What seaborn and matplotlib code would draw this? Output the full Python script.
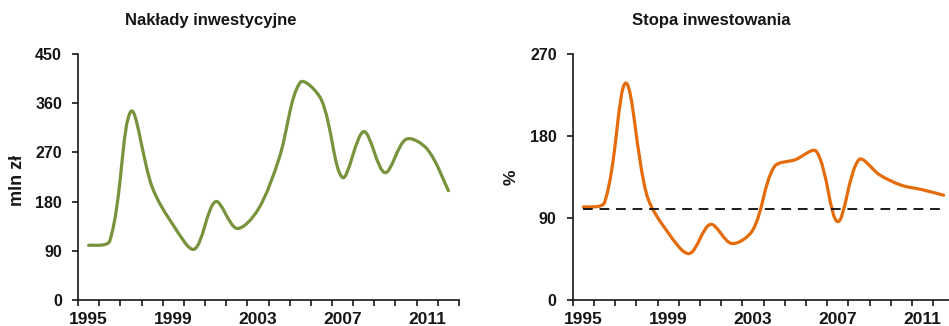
# Investment outlays and investment rate, 1995-2012
import numpy as np
import matplotlib
matplotlib.use("Agg")
import matplotlib.pyplot as plt
from matplotlib.path import Path
from matplotlib.patches import PathPatch
import seaborn as sns

# Data
years = list(range(1995, 2013))
naklady = [100, 108, 345, 207, 137, 93, 180, 131, 165, 259, 398, 366, 224, 308, 233, 294, 276, 200]
stopa = [102, 107, 238, 115, 74, 51, 83, 62, 77, 146, 154, 163, 86, 154, 137, 126, 121, 115]
ref_level = 100
year_labels = ["1995", "1999", "2003", "2007", "2011"]
left_yticks = [0, 90, 180, 270, 360, 450]
right_yticks = [0, 90, 180, 270]

sns.set_theme(style="ticks")
plt.rcParams["font.family"] = ["Liberation Sans", "DejaVu Sans"]
plt.rcParams["font.weight"] = "bold"

TEXT = "#161616"
GREEN = "#77933C"
ORANGE = "#E46C0A"

W, H = 949, 326
fig = plt.figure(figsize=(W / 100, H / 100), dpi=100)


def px_axes(left, top, width, height):
    return fig.add_axes([left / W, 1 - (top + height) / H, width / W, height / H])


def smooth_path(ax, xs, ys):
    # Excel-like smoothed line: cubic Bezier through the data points
    pts = ax.transData.transform(np.column_stack([xs, ys]))
    n = len(pts)
    d = [np.hypot(*(pts[i + 1] - pts[i])) for i in range(n - 1)]
    c_in = [None] * n
    c_out = [None] * n
    c_out[0] = pts[0] + (pts[1] - pts[0]) / 6
    c_in[-1] = pts[-1] - (pts[-1] - pts[-2]) / 6
    for i in range(1, n - 1):
        t = pts[i + 1] - pts[i - 1]
        s = d[i - 1] + d[i]
        c_in[i] = pts[i] - t * d[i - 1] / s / 3
        c_out[i] = pts[i] + t * d[i] / s / 3
    verts = [pts[0]]
    codes = [Path.MOVETO]
    for i in range(n - 1):
        verts += [c_out[i], c_in[i + 1], pts[i + 1]]
        codes += [Path.CURVE4] * 3
    verts = ax.transData.inverted().transform(np.array(verts))
    return Path(verts, codes)


def style_axes(ax, ymax, yticks):
    idx = np.arange(len(years))
    ax.set_xlim(-0.5, len(years) - 0.5)
    ax.set_ylim(0, ymax)
    ax.set_yticks(yticks)
    ax.set_yticklabels([str(v) for v in yticks], fontsize=11.5, fontweight="bold", color=TEXT)
    # tick marks between categories, labels every 4 years
    ax.set_xticks(np.arange(len(years) + 1) - 0.5)
    ax.set_xticklabels([])
    ax.set_xticks(idx[::4], minor=True)
    ax.set_xticklabels(year_labels, minor=True, fontsize=12.5, fontweight="bold", color=TEXT)
    ax.tick_params(axis="x", which="major", direction="out", length=4, width=1.2, color=TEXT)
    ax.tick_params(axis="x", which="minor", length=0, pad=9)
    ax.tick_params(axis="y", direction="out", length=4.5, width=1.2, color=TEXT, pad=7)
    sns.despine(ax=ax)
    for side in ["left", "bottom"]:
        ax.spines[side].set_linewidth(1.2)
        ax.spines[side].set_color(TEXT)
    ax.set_facecolor("white")
    ax.grid(False)


idx = np.arange(len(years))

# left panel
ax1 = px_axes(78, 54, 381, 246)
style_axes(ax1, 450, left_yticks)
ax1.add_patch(PathPatch(smooth_path(ax1, idx, naklady), fill=False, edgecolor=GREEN,
                        lw=2.3, capstyle="round", joinstyle="round"))

# right panel
ax2 = px_axes(572.7, 54, 381.6, 246)
style_axes(ax2, 270, right_yticks)
sns.lineplot(x=[idx[0], idx[-1]], y=[ref_level, ref_level], ax=ax2, color="#1a1a1a",
             lw=1.4, linestyle=(0, (5, 3.5)))
ax2.add_patch(PathPatch(smooth_path(ax2, idx, stopa), fill=False, edgecolor=ORANGE,
                        lw=2.3, capstyle="round", joinstyle="round"))

# titles and axis labels
fig.text(211 / W, 1 - 20 / H, "Nakłady inwestycyjne", ha="center", va="center",
         fontsize=12, fontweight="bold", color=TEXT)
fig.text(711 / W, 1 - 20 / H, "Stopa inwestowania", ha="center", va="center",
         fontsize=12, fontweight="bold", color=TEXT)
fig.text(17 / W, 1 - 180 / H, "mln zł", ha="center", va="center", rotation=90,
         fontsize=13, fontweight="bold", color=TEXT)
fig.text(511 / W, 1 - 177 / H, "%", ha="center", va="center", rotation=90,
         fontsize=12.5, fontweight="bold", color=TEXT)

fig.savefig("out.png", dpi=100, facecolor="white")
